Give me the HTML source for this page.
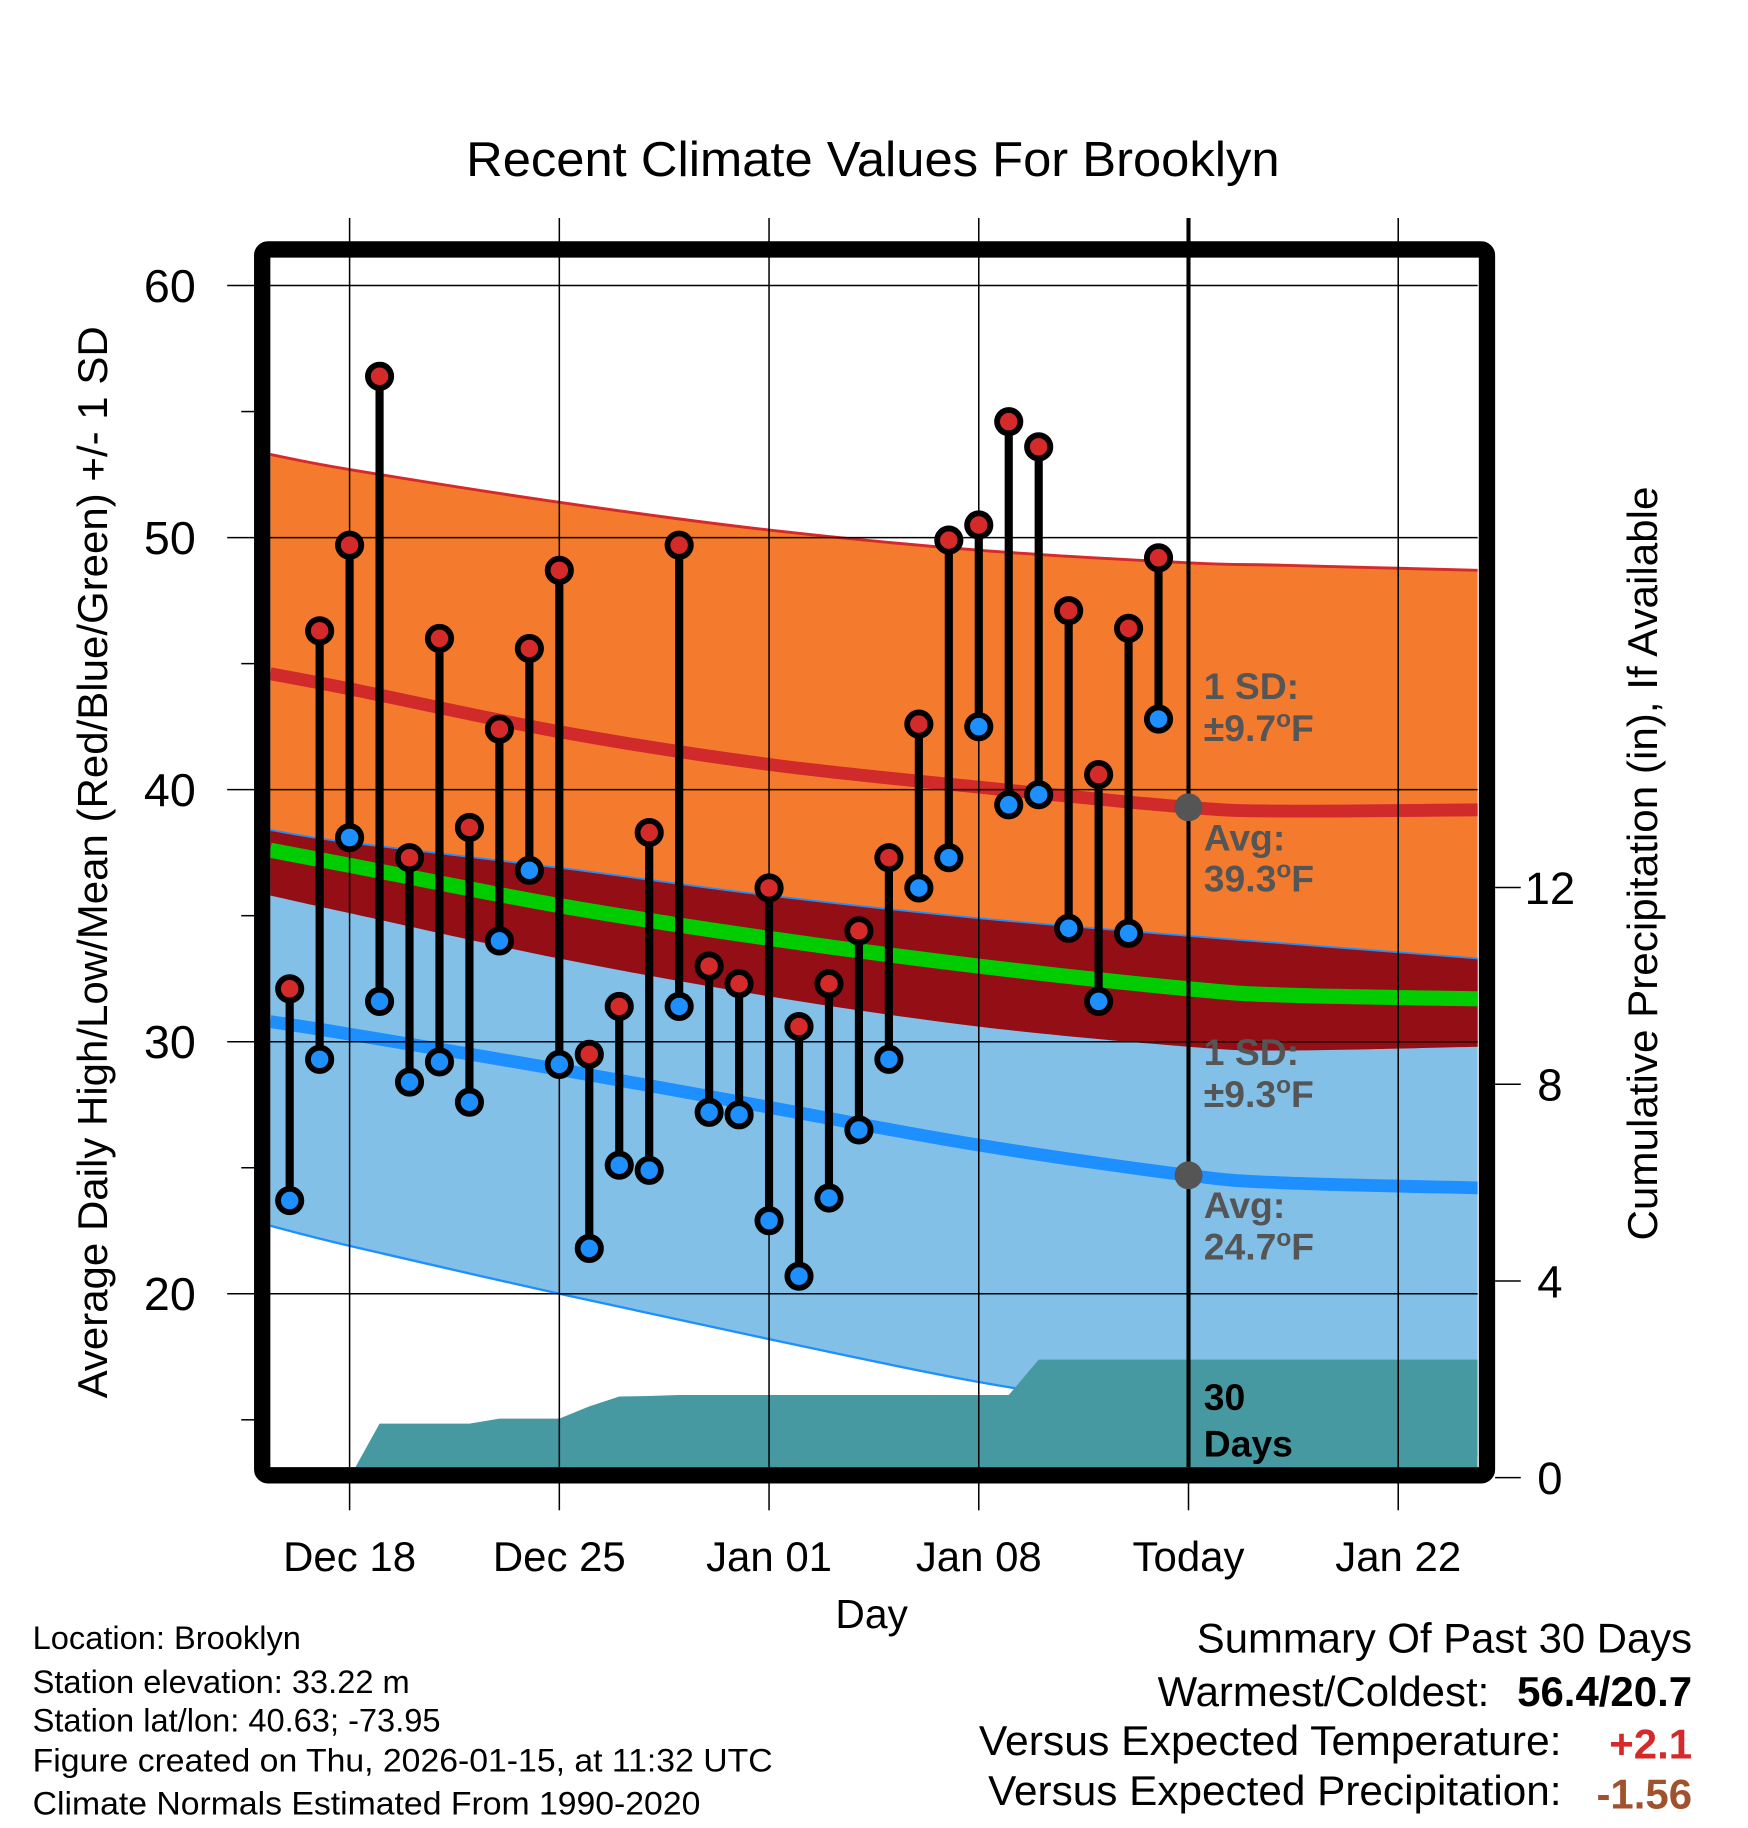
<!DOCTYPE html>
<html><head><meta charset="utf-8"><style>
html,body{margin:0;padding:0;background:#fff;}
svg{display:block;font-family:"Liberation Sans",Arial,sans-serif;}
</style></head><body>
<svg id="chart" width="1748" height="1828" viewBox="0 0 1500 1568.6" xmlns="http://www.w3.org/2000/svg">
<text x="749" y="151" font-size="42" text-anchor="middle" textLength="698" lengthAdjust="spacingAndGlyphs">Recent Climate Values For Brooklyn</text>
<g id="bands"></g>
<g id="grid"></g>
<g id="marks"></g>
<g id="frame-g"></g>
<g id="labels"></g>
<text transform="translate(92,740) rotate(-90)" font-size="36" text-anchor="middle" textLength="920" lengthAdjust="spacingAndGlyphs">Average Daily High/Low/Mean (Red/Blue/Green) +/- 1 SD</text>
<text transform="translate(1422,741) rotate(-90)" font-size="36" text-anchor="middle" textLength="647" lengthAdjust="spacingAndGlyphs">Cumulative Precipitation (in), If Available</text>
<text x="748" y="1397" font-size="35" text-anchor="middle">Day</text>
<g font-size="28">
<text x="28" y="1415">Location: Brooklyn</text>
<text x="28" y="1453">Station elevation: 33.22 m</text>
<text x="28" y="1486">Station lat/lon: 40.63; -73.95</text>
<text x="28" y="1520" textLength="635" lengthAdjust="spacingAndGlyphs">Figure created on Thu, 2026-01-15, at 11:32 UTC</text>
<text x="28" y="1557" textLength="573" lengthAdjust="spacingAndGlyphs">Climate Normals Estimated From 1990-2020</text>
</g>
<g font-size="36" text-anchor="end">
<text x="1452" y="1418" textLength="425" lengthAdjust="spacingAndGlyphs">Summary Of Past 30 Days</text>
<text x="1278" y="1464">Warmest/Coldest:</text>
<text x="1452" y="1464" font-weight="bold">56.4/20.7</text>
<text x="1340" y="1506" textLength="500" lengthAdjust="spacingAndGlyphs">Versus Expected Temperature:</text>
<text x="1452" y="1509" font-weight="bold" fill="#d42a2a">+2.1</text>
<text x="1340" y="1549" textLength="492" lengthAdjust="spacingAndGlyphs">Versus Expected Precipitation:</text>
<text x="1452" y="1552" font-weight="bold" fill="#a0522d">-1.56</text>
</g>
</svg>
<script>
// ---- data ----
const obsDays = [-2,-1,0,1,2,3,4,5,6,7,8,9,10,11,12,13,14,15,16,17,18,19,20,21,22,23,24,25,26,27];
const highs = [32.1,46.3,49.7,56.4,37.3,46.0,38.5,42.4,45.6,48.7,29.5,31.4,38.3,49.7,33.0,32.3,36.1,30.6,32.3,34.4,37.3,42.6,49.9,50.5,54.6,53.6,47.1,40.6,46.4,49.2];
const lows = [23.7,29.3,38.1,31.6,28.4,29.2,27.6,34.0,36.8,29.1,21.8,25.1,24.9,31.4,27.2,27.1,22.9,20.7,23.8,26.5,29.3,36.1,37.3,42.5,39.4,39.8,34.5,31.6,34.3,42.8];
const precip = [0,0,0,1.1,1.1,1.1,1.1,1.2,1.2,1.2,1.45,1.65,1.66,1.68,1.68,1.68,1.68,1.68,1.68,1.68,1.68,1.68,1.68,1.68,1.68,2.4,2.4,2.4,2.4,2.4];
const normDays = [-2.65,0,7,14,21,28,31.2,37.7];
const highTop = [53.3,52.7,51.4,50.3,49.5,49.0,48.9,48.7];
const highAvg = [44.6,44.0,42.3,41.0,40.1,39.3,39.15,39.2];
const overlapTop = [38.4,37.9,36.9,35.8,34.9,34.2,33.9,33.3];
const meanAvg = [37.6,37.0,35.4,34.1,33.0,32.1,31.85,31.7];
const overlapBot = [35.8,35.1,33.3,31.8,30.6,29.8,29.65,29.8];
const lowAvg = [30.8,30.3,28.9,27.4,25.9,24.7,24.4,24.2];
const lowBot = [22.7,21.9,20.0,18.2,16.5,15.2,14.6,13.6];
const yTicks = [60,50,40,30,20];
const yMinor = [55,45,35,25,15];
const y2Ticks = [0,4,8,12];
const xTickDays = [0,7,14,21,28,35];
const xTickLabels = ["Dec 18","Dec 25","Jan 01","Jan 08","Today","Jan 22"];
const todayDay = 28;

// ---- scales ----
const L=232,R=1268,T=221,B=1259;
const x = d => 300 + d*25.71;
const y = v => 245 + (60-v)*21.63;
const y2 = p => 1268 - p*42.2;
const NS='http://www.w3.org/2000/svg';
function mk(parent,tag,attrs){const e=document.createElementNS(NS,tag);for(const k in attrs)e.setAttribute(k,attrs[k]);document.getElementById(parent).appendChild(e);return e;}
function pts(arr){return normDays.map((d,i)=>[x(d),y(arr[i])]);}
function smooth(p,start){let s=start?'M'+p[0][0]+','+p[0][1]:'L'+p[0][0]+','+p[0][1];
 for(let i=0;i<p.length-1;i++){const p0=p[i-1]||p[i],p1=p[i],p2=p[i+1],p3=p[i+2]||p2;
  const c1=[p1[0]+(p2[0]-p0[0])/6,p1[1]+(p2[1]-p0[1])/6],c2=[p2[0]-(p3[0]-p1[0])/6,p2[1]-(p3[1]-p1[1])/6];
  s+=' C'+c1.join(',')+' '+c2.join(',')+' '+p2.join(',');}
 return s;}
function band(top,bot){return smooth(pts(top),true)+' '+smooth(pts(bot).reverse(),false)+' Z';}
function line(arr){return smooth(pts(arr),true);}

const clip=mk('bands','clipPath',{id:'pc'});
const cr=document.createElementNS(NS,'rect');cr.setAttribute('x',L);cr.setAttribute('y',T);cr.setAttribute('width',R-L);cr.setAttribute('height',B-T);clip.appendChild(cr);
const bg=mk('bands','g',{'clip-path':'url(#pc)'});bg.id='bandsc';
let e;
e=mk('bandsc','path',{d:band(highTop,overlapBot),fill:'#f47b2e'});

e=mk('bandsc','path',{d:line(highTop),fill:'none',stroke:'#d42a2a',"stroke-width":2.5});

e=mk('bandsc','path',{d:band(overlapTop,lowBot),fill:'#82c0e8'});

e=mk('bandsc','path',{d:band(overlapTop,overlapBot),fill:'#930e15'});

e=mk('bandsc','path',{d:line(overlapTop),fill:'none',stroke:'#1e8fff',"stroke-width":1.5});

e=mk('bandsc','path',{d:line(lowBot),fill:'none',stroke:'#1e8fff',"stroke-width":2});

e=mk('bandsc','path',{d:line(meanAvg),fill:'none',stroke:'#00cc00',"stroke-width":13});

e=mk('bandsc','path',{d:line(highAvg),fill:'none',stroke:'#d12a2a',"stroke-width":11});

e=mk('bandsc','path',{d:line(lowAvg),fill:'none',stroke:'#1e8fff',"stroke-width":11});

// precip
let pp=[x(obsDays[0])+','+y2(0)];
obsDays.forEach((d,i)=>pp.push(x(d)+','+y2(precip[i])));
pp.push(R+','+y2(precip[precip.length-1]));pp.push(R+','+y2(0));
e=mk('bandsc','polygon',{points:pp.join(' '),fill:'#4799a1'});


// grid
yTicks.forEach(v=>{
 e=mk('grid','line',{x1:195,x2:R,y1:y(v),y2:y(v),stroke:'#000','stroke-width':1.3});
 
 e=mk('labels','text',{x:168,y:y(v)+14,'font-size':40,'text-anchor':'end'});e.textContent=v;
 
});
yMinor.forEach(v=>{e=mk('grid','line',{x1:207,x2:218,y1:y(v),y2:y(v),stroke:'#000','stroke-width':1.3});
 });
y2Ticks.forEach(p=>{
 e=mk('grid','line',{x1:1283,x2:1305,y1:y2(p),y2:y2(p),stroke:'#000','stroke-width':1.3});
 
 e=mk('labels','text',{x:1330,y:y2(p)+14,'font-size':39,'text-anchor':'middle'});e.textContent=p;
 
});
xTickDays.forEach((d,i)=>{
 e=mk('grid','line',{x1:x(d),x2:x(d),y1:187,y2:B,stroke:'#000','stroke-width':1.3});
 
 e=mk('grid','line',{x1:x(d),x2:x(d),y1:1273,y2:1296,stroke:'#000','stroke-width':1.3});
 
 e=mk('labels','text',{x:x(d),y:1348,'font-size':36,'text-anchor':'middle'});e.textContent=xTickLabels[i];
 
});
// today line
e=mk('marks','line',{x1:x(todayDay),x2:x(todayDay),y1:187,y2:B,stroke:'#000','stroke-width':3.5});

// stems and dots
obsDays.forEach((d,i)=>{
 e=mk('marks','line',{x1:x(d),x2:x(d),y1:y(highs[i]),y2:y(lows[i]),stroke:'#000','stroke-width':7});
 
});
obsDays.forEach((d,i)=>{
 e=mk('marks','circle',{cx:x(d),cy:y(highs[i]),r:10,fill:'#d42a2a',stroke:'#000','stroke-width':5});
 
 e=mk('marks','circle',{cx:x(d),cy:y(lows[i]),r:10,fill:'#1e8fff',stroke:'#000','stroke-width':5});
 
});
const ti=normDays.indexOf(28);
e=mk('marks','circle',{cx:x(todayDay),cy:y(highAvg[ti]),r:12,fill:'#555'});

e=mk('marks','circle',{cx:x(todayDay),cy:y(lowAvg[ti]),r:12,fill:'#555'});

// frame
e=mk('frame-g','rect',{x:225,y:214,width:1051,height:1052,rx:5,fill:'none',stroke:'#000','stroke-width':14});

// annotations
const ann=[["1 SD:",600,'#555'],["±9.7°F",636,'#555'],["Avg:",730,'#555'],["39.3°F",765,'#555'],["1 SD:",914,'#555'],["±9.3°F",950,'#555'],["Avg:",1045,'#555'],["24.7°F",1081,'#555'],["30",1210,'#000'],["Days",1250,'#000']];
ann.forEach(a=>{
 e=mk('labels','text',{x:1033,y:a[1],'font-size':32,'font-weight':'bold',fill:a[2]});
 if(a[0].indexOf('°')>=0){const p=a[0].split('°');e.textContent=p[0];const s=document.createElementNS(NS,'tspan');s.setAttribute('dy','-12');s.setAttribute('font-size','21');s.textContent='o';e.appendChild(s);const f=document.createElementNS(NS,'tspan');f.setAttribute('dy','12');f.textContent='F';e.appendChild(f);}
 else e.textContent=a[0];
 
});
</script>
</body></html>
